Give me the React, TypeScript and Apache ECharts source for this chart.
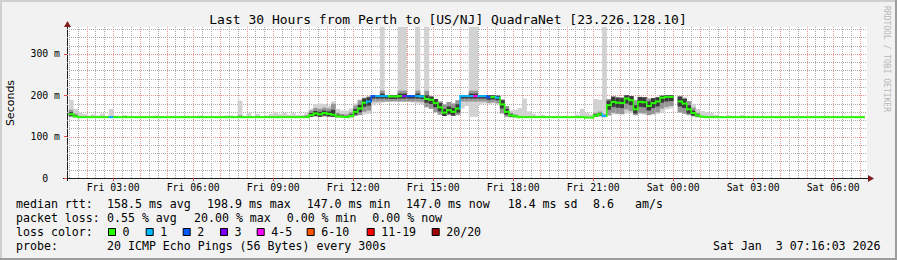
import React, { useEffect, useRef } from 'react';
import * as echarts from 'echarts';

// time in minutes since Fri 00:00
const axisStart = 76.05; // Fri 01:16:03
const axisEnd = 1876.05; // Sat 07:16:03
const startMinute = 80;
const stepMinutes = 10;

const medianRtt = [
  154, 149,
  147, 147, 147, 147, 147, 147, 147, 147, 147, 147, 147, 147, 147,
  147, 147, 147, 147, 147, 147, 147, 147, 147, 147, 147, 147, 147,
  147, 147, 147, 147, 147, 147, 147, 147, 147, 147, 147, 147, 147,
  147, 147, 147, 147, 147, 147, 147, 147, 147, 147, 147, 147, 147,
  152, 156, 154, 157, 155, 153, 149, 148, 147, 150, 160, 168, 182, 185,
  198, 198, 198, 198, 197, 197, 198, 198, 198, 198, 198, 197,
  191, 189, 181, 171, 158, 164, 160, 168,
  198, 198, 198, 198, 198, 198, 195, 196, 194,
  178, 160, 151, 149,
  147, 147, 147, 147, 147, 147, 147, 147, 147, 147, 147, 147, 147,
  147, 147, 146, 146, 151, 154, 150,
  176, 184, 182, 181, 192, 188, 166, 184, 183, 174, 181, 185, 194, 196, 196,
  null,
  185, 180, 166, 157, 151, 148,
  147, 147, 147, 147, 147, 147, 147, 147, 147, 147, 147, 147,
  147, 147, 147, 147, 147, 147, 147, 147, 147, 147, 147, 147,
  147, 147, 147, 147, 147, 147, 147, 147, 147, 147, 147, 147,
];

const lossCount = [
  0, 0, 0, 0, 0, 0, 0, 0, 0, 1,
  0, 0, 0, 0, 0, 0, 0, 0, 0, 0,
  0, 0, 0, 0, 0, 0, 0, 0, 0, 0,
  0, 0, 0, 0, 0, 0, 0, 0, 0, 0,
  0, 0, 0, 0, 0, 0, 0, 0, 0, 0,
  0, 0, 0, 0, 0, 0, 0, 0, 0, 0,
  0, 0, 0, 0, 0, 0, 0, 1, 2, 1,
  1, 1, 0, 0, 0, 3, 2, 2, 1, 1,
  0, 0, 0, 0, 0, 0, 0, 0, 1, 1,
  1, 4, 1, 1, 2, 0, 1, 0, 0, 0,
  0, 0, 0, 0, 0, 0, 0, 0, 0, 0,
  0, 0, 0, 0, 0, 0, 0, 0, 0, 0,
  1, 0, 0, 0, 0, 0, 0, 0, 0, 0,
  0, 0, 0, 0, 0, 0, 0, 0, 0, 0,
  0, 0, 0, 0, 0, 0, 0, 0, 0, 0,
  0, 0, 0, 0, 0, 0, 0, 0, 0, 0,
  0, 0, 0, 0, 0, 0, 0, 0, 0, 0,
  0, 0, 0, 0, 0, 0, 0, 0, 0,
];

// smoke: slowest ping above the median, fastest ping below it, dark core half-width
const smokeUp = [
  35, 18, 12, 8, 4, 7, 4, 9, 3, 20,
  4, 1, 5, 1, 1, 1, 1, 1, 1, 4,
  1, 1, 1, 1, 1, 1, 1, 1, 1, 4,
  1, 1, 1, 1, 1, 4, 4, 1, 40, 3,
  10, 1, 8, 1, 4, 8, 12, 8, 10, 6,
  10, 5, 6, 12, 15, 22, 26, 22, 20, 32,
  18, 15, 16, 18, 20, 22, 12, 12, 2, 2,
  167, 2, 3, 3, 167, 167, 2, 2, 167, 3,
  174, 8, 10, 14, 20, 20, 22, 20, 2, 2,
  167, 167, 2, 2, 5, 4, 5, 12, 14, 12,
  16, 22, 45, 14, 8, 4, 6, 3, 1, 1,
  1, 3, 1, 1, 6, 20, 12, 8, 40, 35,
  215, 15, 14, 14, 14, 8, 10, 22, 12, 12,
  18, 12, 10, 5, 4, 4, null, 12, 14, 20,
  22, 16, 14, 12, 10, 6, 3, 1, 4, 1,
  1, 5, 1, 1, 1, 1, 1, 1, 1, 1,
  1, 1, 1, 1, 1, 1, 1, 1, 1, 1,
  1, 1, 1, 1, 1, 1, 1, 1, 1,
];

const smokeDown = [
  5, 2, 1, 1, 1, 1, 1, 1, 1, 1,
  1, 1, 1, 1, 1, 1, 1, 1, 1, 1,
  1, 1, 1, 1, 1, 1, 1, 1, 1, 1,
  1, 1, 1, 1, 1, 1, 1, 1, 1, 1,
  1, 1, 1, 1, 1, 1, 1, 1, 1, 1,
  1, 1, 1, 1, 4, 7, 6, 8, 7, 5,
  2, 1, 1, 3, 10, 16, 28, 30, 22, 18,
  16, 14, 12, 12, 14, 14, 14, 16, 18, 18,
  20, 22, 22, 18, 8, 12, 10, 16, 30, 24,
  50, 50, 20, 18, 16, 16, 16, 22, 12, 4,
  2, 1, 1, 1, 1, 1, 1, 1, 1, 1,
  1, 1, 1, 1, 1, 1, 1, 1, 3, 5,
  3, 26, 30, 28, 28, 36, 32, 14, 30, 30,
  22, 28, 30, 34, 30, 28, null, 28, 26, 14,
  8, 4, 1, 1, 1, 1, 1, 1, 1, 1,
  1, 1, 1, 1, 1, 1, 1, 1, 1, 1,
  1, 1, 1, 1, 1, 1, 1, 1, 1, 1,
  1, 1, 1, 1, 1, 1, 1, 1, 1,
];

const smokeCore = [
  5, 3, 1, 1, 1, 1, 1, 1, 1, 1,
  1, 1, 1, 1, 1, 1, 1, 1, 1, 1,
  1, 1, 1, 1, 1, 1, 1, 1, 1, 1,
  1, 1, 1, 1, 1, 1, 1, 1, 2, 1,
  1, 1, 1, 1, 1, 1, 1, 1, 1, 1,
  1, 1, 1, 2, 5, 6, 6, 6, 6, 12,
  4, 3, 3, 4, 7, 9, 10, 10, 6, 6,
  6, 6, 6, 6, 6, 6, 6, 6, 6, 6,
  9, 10, 10, 10, 9, 9, 9, 10, 6, 6,
  6, 6, 6, 6, 6, 6, 6, 10, 7, 3,
  2, 1, 1, 1, 1, 1, 1, 1, 1, 1,
  1, 1, 1, 1, 1, 1, 1, 1, 3, 3,
  2, 11, 12, 12, 12, 12, 12, 10, 12, 12,
  11, 12, 12, 12, 11, 10, null, 12, 11, 10,
  6, 3, 1, 1, 1, 1, 1, 1, 1, 1,
  1, 1, 1, 1, 1, 1, 1, 1, 1, 1,
  1, 1, 1, 1, 1, 1, 1, 1, 1, 1,
  1, 1, 1, 1, 1, 1, 1, 1, 1,
];

const xLabelMinutes = [180, 360, 540, 720, 900, 1080, 1260, 1440, 1620, 1800];
const dayNames = ['Fri', 'Sat'];
const yLabelValues = [0, 100, 200, 300];

const titleText = 'Last 30 Hours from Perth to [US/NJ] QuadraNet [23.226.128.10]';
const rttStats = ['158.5 ms avg', '198.9 ms max', '147.0 ms min', '147.0 ms now', '18.4 ms sd', '8.6', 'am/s'];
const lossStats = ['0.55 % avg', '20.00 % max', '0.00 % min', '0.00 % now'];
const lossLegend = [
  ['0', '#26ff00'], ['1', '#00b8ff'], ['2', '#0059ff'], ['3', '#7e00ff'],
  ['4-5', '#ff00ff'], ['6-10', '#ff5500'], ['11-19', '#ff0000'], ['20/20', '#a10000'],
];
const probeText = '20 ICMP Echo Pings (56 Bytes) every 300s';
const dateText = 'Sat Jan  3 07:16:03 2026';

function lossColor(n: number): string {
  if (n <= 0) return '#26ff00';
  if (n === 1) return '#00b8ff';
  if (n === 2) return '#0059ff';
  if (n === 3) return '#7e00ff';
  if (n <= 5) return '#ff00ff';
  if (n <= 10) return '#ff5500';
  if (n <= 19) return '#ff0000';
  return '#a10000';
}

const MONO = '"DejaVu Sans Mono"';
const LEG_FONT = `11.6px ${MONO}`;

function gridSeries(values: number[], vertical: boolean, color: string, z: number) {
  return {
    type: 'custom', z, silent: true,
    encode: { x: 0, y: 1 },
    data: values.map((v) => (vertical ? [v, 0] : [axisStart, v])),
    renderItem: (params: any, api: any) => {
      if (vertical) {
        const v = api.value(0) as number;
        const x = Math.round(api.coord([v, 0])[0]) + 0.5;
        return {
          type: 'line',
          shape: { x1: x, y1: api.coord([v, 365])[1], x2: x, y2: api.coord([v, 0])[1] },
          style: { stroke: color, lineWidth: 1, lineDash: [1, 1] },
        };
      }
      const v = api.value(1) as number;
      const y = Math.round(api.coord([axisStart, v])[1]) + 0.5;
      return {
        type: 'line',
        shape: { x1: api.coord([axisStart, v])[0], y1: y, x2: api.coord([axisEnd, v])[0], y2: y },
        style: { stroke: color, lineWidth: 1, lineDash: [1, 1] },
      };
    },
  };
}

export default function App() {
  const ref = useRef<HTMLDivElement>(null);
  useEffect(() => {
    document.body.style.margin = '0';
    if (!ref.current) return;
    const chart = echarts.init(ref.current, null, { renderer: 'svg' });

    const data = medianRtt.map((m, i) => [
      startMinute + i * stepMinutes, m, smokeUp[i], smokeDown[i], smokeCore[i], lossCount[i],
      i > 0 ? medianRtt[i - 1] : null,
    ]);

    const xMinor: number[] = [];
    const xMajor: number[] = [];
    for (let m = 80; m <= 1860; m += 20) (m % 60 === 0 ? xMajor : xMinor).push(m);
    const yMinor: number[] = [];
    const yMajor: number[] = [];
    for (let v = 20; v <= 360; v += 20) (v % 100 === 0 ? yMajor : yMinor).push(v);

    const texts: any[] = [];
    const addText = (text: string, x: number, y: number, opts: any = {}) => {
      texts.push({
        type: 'text', x, y, silent: true, ...opts,
        style: { text, font: LEG_FONT, fill: '#000', textAlign: 'left', textVerticalAlign: 'middle', ...(opts.style || {}) },
      });
    };
    const r1 = 204.3, r2 = 218.3, r3 = 232.3, r4 = 246.3;
    addText('median rtt:', 16, r1);
    [107, 207, 306.7, 406, 507.7, 593, 635].forEach((x, i) => addText(rttStats[i], x, r1));
    addText('packet loss:', 16, r2);
    [107, 194, 286.7, 372.3].forEach((x, i) => addText(lossStats[i], x, r2));
    addText('loss color:', 16, r3);
    const boxX = [108, 145.7, 182.7, 220, 256.7, 306.7, 366.7, 431.7];
    lossLegend.forEach(([label, color], i) => {
      texts.push({
        type: 'rect', silent: true,
        shape: { x: boxX[i] + 0.5, y: 228.5, width: 7, height: 7 },
        style: { fill: color, stroke: '#000', lineWidth: 1 },
      });
      addText(label, boxX[i] + 14.5, r3);
    });
    addText('probe:', 16, r4);
    addText(probeText, 107, r4);
    addText(dateText, 880.5, r4, { style: { textAlign: 'right' } });

    const option: any = {
      animation: false,
      backgroundColor: '#f2f2f2',
      textStyle: { fontFamily: MONO },
      grid: { left: 67, top: 27, width: 800, height: 151, show: true, backgroundColor: '#ffffff', borderWidth: 0 },
      xAxis: {
        type: 'value', min: axisStart, max: axisEnd,
        axisLine: { show: true, onZero: false, lineStyle: { color: '#1f1f1f', width: 1 } },
        axisTick: { show: true, customValues: xLabelMinutes, length: 3, lineStyle: { color: '#de4f4f' } },
        axisLabel: {
          customValues: xLabelMinutes, margin: 4, fontSize: 9.8, fontFamily: MONO, color: '#000',
          formatter: (v: number) => {
            const d = Math.floor(v / 1440);
            const m = Math.round(v - d * 1440);
            const hh = String(Math.floor(m / 60)).padStart(2, '0');
            const mm = String(m % 60).padStart(2, '0');
            return `${dayNames[d]} ${hh}:${mm}`;
          },
        },
        splitLine: { show: false },
      },
      yAxis: {
        type: 'value', min: 0, max: 365, interval: 100,
        axisLine: { show: true, lineStyle: { color: '#1f1f1f', width: 1 } },
        axisTick: { show: true, customValues: yLabelValues, length: 3, lineStyle: { color: '#de4f4f' } },
        axisLabel: {
          customValues: yLabelValues, margin: 7, fontSize: 9.8, fontFamily: MONO, color: '#000',
          formatter: (v: number) => (v === 0 ? '0  ' : `${v} m`),
        },
        splitLine: { show: false },
      },
      series: [
        gridSeries(xMinor, true, '#ababab', 1),
        gridSeries(yMinor, false, '#ababab', 1),
        gridSeries(xMajor, true, '#eb9595', 2),
        gridSeries(yMajor, false, '#eb9595', 2),
        {
          type: 'custom', z: 3, clip: true, silent: true,
          encode: { x: 0, y: 1 },
          data,
          renderItem: (params: any, api: any) => {
            const t = api.value(0) as number;
            const med = api.value(1) as number;
            if (med == null || isNaN(med)) return null;
            const up = api.value(2) as number;
            const dn = api.value(3) as number;
            const core = api.value(4) as number;
            const loss = api.value(5) as number;
            const prev = api.value(6) as number;
            const x0 = api.coord([t, med])[0];
            const x1 = api.coord([t + stepMinutes, med])[0];
            const y = (v: number) => api.coord([t, v])[1];
            const band = (lo: number, hi: number, fill: string) => ({
              type: 'rect',
              shape: { x: x0, y: y(hi), width: x1 - x0 + 0.4, height: y(lo) - y(hi) },
              style: { fill },
            });
            const midUp = Math.min(up, core * 2.2);
            const midDn = Math.min(dn, core * 2.2);
            const cUp = Math.min(up, core);
            const cDn = Math.min(dn, core);
            const children: any[] = [
              band(med - dn, med + up, '#d2d2d2'),
              band(med - midDn, med + midUp, '#969696'),
              band(med - cDn, med + cUp, '#3a3a3a'),
            ];
            const col = lossColor(loss);
            const ym = y(med);
            children.push({ type: 'rect', shape: { x: x0, y: ym - 1, width: x1 - x0 + 0.4, height: 2 }, style: { fill: col } });
            if (prev != null && !isNaN(prev) && prev !== med) {
              const yp = y(prev);
              children.push({
                type: 'rect',
                shape: { x: x0 - 0.5, y: Math.min(ym, yp) - 1, width: 1.5, height: Math.abs(ym - yp) + 2 },
                style: { fill: col },
              });
            }
            return { type: 'group', children };
          },
        },
      ],
      graphic: [
        { type: 'rect', silent: true, shape: { x: 0, y: 0, width: 897, height: 2 }, style: { fill: '#cfcfcf' } },
        { type: 'rect', silent: true, shape: { x: 0, y: 0, width: 2, height: 260 }, style: { fill: '#cfcfcf' } },
        { type: 'rect', silent: true, shape: { x: 0, y: 258, width: 897, height: 2 }, style: { fill: '#9e9e9e' } },
        { type: 'rect', silent: true, shape: { x: 895, y: 0, width: 2, height: 260 }, style: { fill: '#9e9e9e' } },
        { type: 'line', silent: true, shape: { x1: 63, y1: 178.5, x2: 869, y2: 178.5 }, style: { stroke: '#1f1f1f', lineWidth: 1 } },
        { type: 'line', silent: true, shape: { x1: 67.5, y1: 181, x2: 67.5, y2: 25 }, style: { stroke: '#1f1f1f', lineWidth: 1 } },
        { type: 'polygon', silent: true, shape: { points: [[868, 175], [874, 178.5], [868, 182]] }, style: { fill: '#801f1f' } },
        { type: 'polygon', silent: true, shape: { points: [[64, 27], [67.5, 21], [71, 27]] }, style: { fill: '#801f1f' } },
        {
          type: 'text', silent: true, x: 448, y: 19,
          style: { text: titleText, font: `13px ${MONO}`, fill: '#000', textAlign: 'center', textVerticalAlign: 'middle' },
        },
        {
          type: 'text', silent: true, x: 10.5, y: 103, rotation: Math.PI / 2,
          style: { text: 'Seconds', font: '11px "DejaVu Sans"', fill: '#000', textAlign: 'center', textVerticalAlign: 'middle' },
        },
        {
          type: 'text', silent: true, x: 886, y: 59, rotation: -Math.PI / 2,
          style: { text: 'RRDTOOL / TOBI OETIKER', font: `8px ${MONO}`, fill: '#b8b8b8', textAlign: 'center', textVerticalAlign: 'middle' },
        },
        ...texts,
      ],
    };
    chart.setOption(option);
    return () => chart.dispose();
  }, []);
  return <div ref={ref} style={{ width: 897, height: 260 }} />;
}
